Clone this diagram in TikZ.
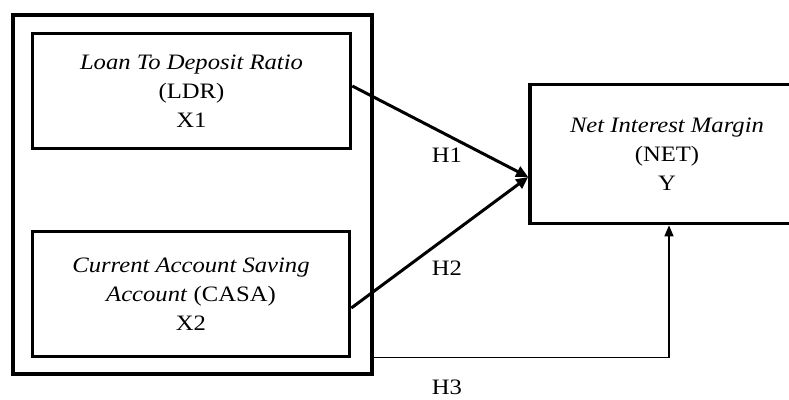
\documentclass[tikz,border=0pt]{standalone}
\usepackage{fontspec}
\setmainfont[FakeStretch=1.12]{Liberation Serif}
\usetikzlibrary{arrows.meta}
\begin{document}
\begin{tikzpicture}[x=1pt,y=-1pt,
  boxstyle/.style={draw=black, line width=3.6pt, minimum width=#1, inner sep=0pt, align=center,
     font=\fontsize{22}{29}\selectfont},
  boxstyle/.default=100pt,
  thickarrow/.style={line width=3pt, -{Triangle[length=12pt,width=11pt]}},
  thinarrow/.style={line width=1.3pt, -{Triangle[length=11pt,width=9pt]}},
  lbl/.style={font=\fontsize{22}{26}\selectfont, inner sep=0pt}]
\useasboundingbox (0,0) rectangle (789,399);
\clip (0,0) rectangle (789,399);
\node[boxstyle=359pt, minimum height=359pt] (outer) at (192.5,194.5) {};
\node[boxstyle=318pt, minimum height=115pt] (ldr) at (191.5,91)
  {\textit{Loan To Deposit Ratio}\\(LDR)\\X1};
\node[boxstyle=317pt, minimum height=125pt] (casa) at (191,294)
  {\textit{Current Account Saving}\\\textit{Account} (CASA)\\X2};
\node[boxstyle=274pt, minimum height=139pt] (net) at (667,154)
  {\textit{Net Interest Margin}\\(NET)\\Y};
\coordinate (tgt) at ([yshift=-23pt]net.west);
\draw[thickarrow] ([yshift=5pt]ldr.east) -- (tgt);
\draw[thickarrow] ([yshift=-14pt]casa.east) -- (tgt);
\draw[thinarrow] ([yshift=18pt]outer.south east) -| ([xshift=2pt]net.south);
\node[lbl] (h1) at (447,155) {H1};
\node[lbl] (h2) at (447,268) {H2};
\node[lbl] (h3) at (447,387) {H3};
\end{tikzpicture}
\end{document}
